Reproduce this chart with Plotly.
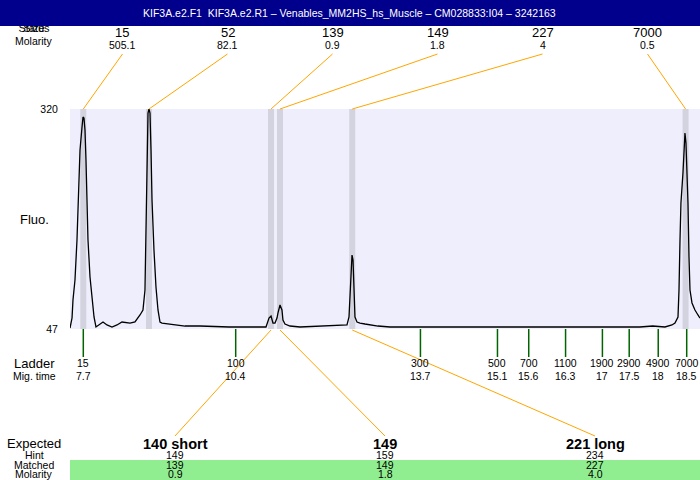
import plotly.graph_objects as go

# ---------------- data ----------------
title_text = "KIF3A.e2.F1  KIF3A.e2.R1 \u2013 Venables_MM2HS_hs_Muscle \u2013 CM028833:I04 \u2013 3242163"

# electropherogram trace (migration time, fluorescence)
curve_time = [7.462, 7.498, 7.515, 7.551, 7.587, 7.623, 7.641, 7.677, 7.695, 7.712,
              7.730, 7.748, 7.766, 7.784, 7.820, 7.856, 7.892, 7.927, 7.999, 8.053,
              8.124, 8.214, 8.304, 8.393, 8.537, 8.626, 8.716, 8.769, 8.805, 8.823,
              8.841, 8.859, 8.877, 8.895, 8.913, 8.931, 8.966, 9.002, 9.038, 9.074,
              9.110, 9.253, 9.522, 9.791, 10.310, 10.973, 10.991, 11.027, 11.063, 11.098,
              11.134, 11.170, 11.188, 11.224, 11.259, 11.277, 11.313, 11.403, 11.582, 12.424,
              12.460, 12.478, 12.496, 12.514, 12.532, 12.549, 12.567, 12.603, 12.657, 12.747,
              12.979, 13.194, 14.270, 15.170, 16.240, 16.960, 17.670, 17.900, 18.120, 18.246,
              18.300, 18.354, 18.372, 18.390, 18.407, 18.443, 18.461, 18.479, 18.497, 18.515,
              18.533, 18.551, 18.569, 18.605, 18.658, 18.712, 18.748]
curve_fluo = [48.2, 60.6, 83.0, 107.8, 157.4, 228.2, 269.1, 297.7, 310.1, 308.8,
              293.9, 256.7, 207.1, 157.4, 111.5, 83.0, 61.9, 49.5, 53.2, 55.7,
              52.0, 49.5, 52.0, 55.7, 54.4, 55.7, 64.4, 70.6, 95.4, 166.1,
              248.0, 315.0, 320.0, 315.0, 269.1, 207.1, 145.0, 99.1, 70.6, 55.7,
              54.4, 53.2, 50.7, 50.7, 49.5, 49.5, 54.4, 60.6, 63.1, 54.4,
              54.4, 60.6, 66.9, 76.8, 70.6, 58.2, 53.2, 50.7, 49.5, 52.0,
              61.9, 91.7, 128.9, 138.8, 132.6, 91.7, 61.9, 55.7, 54.4, 53.2,
              50.7, 49.5, 49.5, 48.9, 49.5, 48.9, 49.5, 50.7, 49.5, 52.0,
              54.4, 61.9, 95.4, 157.4, 203.4, 240.6, 277.8, 290.2, 277.8, 244.3,
              203.4, 136.3, 95.4, 79.3, 70.6, 64.4, 60.6]

# called peaks
peak_sizes = [15, 52, 139, 149, 227, 7000]
peak_molarity = ["505.1", "82.1", "0.9", "1.8", "4", "0.5"]
peak_times = [7.700, 8.877, 11.063, 11.224, 12.518, 18.490]

# ladder
ladder_sizes = [15, 100, 300, 500, 700, 1100, 1900, 2900, 4900, 7000]
ladder_times = [7.70, 10.43, 13.74, 15.12, 15.68, 16.34, 17.00, 17.48, 18.00, 18.51]
ladder_time_labels = ["7.7", "10.4", "13.7", "15.1", "15.6", "16.3", "17", "17.5", "18", "18.5"]

# expected products
expected_labels = ["140 short", "149", "221 long"]
hint_values = ["149", "159", "234"]
matched_sizes = [139, 149, 227]
matched_molarity = ["0.9", "1.8", "4.0"]

y_ticks = [47, 320]

# ---------------- layout helpers ----------------
W, H = 700, 480
PL, PR, PT, PB = 70, 700, 109, 329
T0, T1 = 7.4617, 18.7483
FONT = "Liberation Sans, Arial, sans-serif"
ORANGE = "#FFA500"


def xp(px):
    return px / W


def yp(py):
    return 1 - py / H


def t2px(t):
    return PL + (t - T0) / (T1 - T0) * (PR - PL)


fig = go.Figure()

fig.add_trace(go.Scatter(x=curve_time, y=curve_fluo, mode="lines",
                         line=dict(color="black", width=1.3), hoverinfo="skip"))

# overlapping header labels (partly hidden by the title bar)
fig.add_trace(go.Scatter(x=[34, 34], y=[29, 29], mode="text", text=["Status", "Size"],
                         textfont=dict(family=FONT, size=11, color="black"),
                         xaxis="x2", yaxis="y2", cliponaxis=False, hoverinfo="skip"))

shapes = []
# plot area background
shapes.append(dict(type="rect", xref="x domain", yref="y domain", x0=0, x1=1, y0=0, y1=1,
                   fillcolor="#EEEEFC", line=dict(width=0), layer="below"))
# peak bands
half = 3 / (PR - PL) * (T1 - T0)
for t in peak_times:
    shapes.append(dict(type="rect", xref="x", yref="y domain", x0=t - half, x1=t + half,
                       y0=0, y1=1, fillcolor="#D3D3E0", line=dict(width=0), layer="below"))
# matched band
shapes.append(dict(type="rect", xref="paper", yref="paper", x0=xp(PL), x1=1, y0=0, y1=yp(460),
                   fillcolor="#90EE90", line=dict(width=0), layer="below"))
# header bar
shapes.append(dict(type="rect", xref="paper", yref="paper", x0=0, x1=1, y0=yp(26), y1=1,
                   fillcolor="#00008C", line=dict(width=0), layer="above"))

annotations = []


def ann(x, y, text, size=11, bold=False, color="black", xref="paper", xanchor="center"):
    annotations.append(dict(x=x, y=y, xref=xref, yref="paper", text=("<b>%s</b>" % text) if bold else text,
                            showarrow=False, xanchor=xanchor, yanchor="middle",
                            font=dict(family=FONT, size=size, color=color)))


ann(xp(349), yp(13), title_text, size=10.5, color="white")
ann(xp(34), yp(41), "Molarity", size=10.5)

# top peak labels + connectors
slot = (PR - PL) / len(peak_sizes)
for i, (s, m, t) in enumerate(zip(peak_sizes, peak_molarity, peak_times)):
    lx = PL + slot * (i + 0.5)
    ann(xp(lx), yp(33), str(s), size=13)
    ann(xp(lx), yp(45), m, size=10.5)
    shapes.append(dict(type="line", xref="paper", yref="paper", x0=xp(lx), y0=yp(54),
                       x1=xp(t2px(t)), y1=yp(PT), line=dict(color=ORANGE, width=1)))

# y axis title
ann(xp(34), yp(220), "Fluo.", size=13)

# ladder
ann(xp(34), yp(363), "Ladder", size=13)
ann(xp(34), yp(376), "Mig. time", size=10.5)
for s, t, lab in zip(ladder_sizes, ladder_times, ladder_time_labels):
    shapes.append(dict(type="line", xref="x", yref="paper", x0=t, x1=t, y0=yp(PB), y1=yp(357),
                       line=dict(color="#006400", width=1.5)))
    ann(t, yp(363), str(s), size=10.5, xref="x")
    ann(t, yp(376), lab, size=10.5, xref="x")

# expected table
ann(xp(34), yp(443), "Expected", size=13)
ann(xp(34), yp(455), "Hint", size=10.5)
ann(xp(34), yp(465), "Matched", size=10.5)
ann(xp(34), yp(474), "Molarity", size=10.5)
eslot = (PR - PL) / len(expected_labels)
for i, (e, h, ms, mm) in enumerate(zip(expected_labels, hint_values, matched_sizes, matched_molarity)):
    ex = PL + eslot * (i + 0.5)
    ann(xp(ex), yp(444), e, size=14.5, bold=True)
    ann(xp(ex), yp(455), h, size=10.5)
    ann(xp(ex), yp(465), str(ms), size=10.5)
    ann(xp(ex), yp(474), mm, size=10.5)
    t = peak_times[peak_sizes.index(ms)]
    shapes.append(dict(type="line", xref="paper", yref="paper", x0=xp(t2px(t)), y0=yp(PB + 1),
                       x1=xp(ex), y1=yp(436), line=dict(color=ORANGE, width=1)))

fig.update_layout(
    width=W, height=H, margin=dict(l=0, r=0, t=0, b=0, pad=0, autoexpand=False),
    paper_bgcolor="white", plot_bgcolor="rgba(0,0,0,0)", showlegend=False,
    xaxis=dict(domain=[xp(PL), xp(PR)], range=[T0, T1], visible=False, fixedrange=True),
    yaxis=dict(domain=[yp(PB), yp(PT)], range=[47, 320], tickvals=y_ticks,
               ticktext=[str(v) for v in y_ticks], ticks="outside", ticklen=9,
               tickcolor="rgba(0,0,0,0)", showgrid=False, zeroline=False, showline=False,
               automargin=False,
               tickfont=dict(family=FONT, size=10.5, color="black"), fixedrange=True),
    xaxis2=dict(domain=[0, 1], range=[0, W], visible=False, anchor="y2", fixedrange=True),
    yaxis2=dict(domain=[0, 1], range=[H, 0], visible=False, anchor="x2", fixedrange=True),
    shapes=shapes, annotations=annotations,
)

fig.write_html("out.html", config={"displayModeBar": False},
               post_script="document.body.style.margin='0';document.body.style.padding='0';"
                           "document.documentElement.style.overflow='hidden';")
